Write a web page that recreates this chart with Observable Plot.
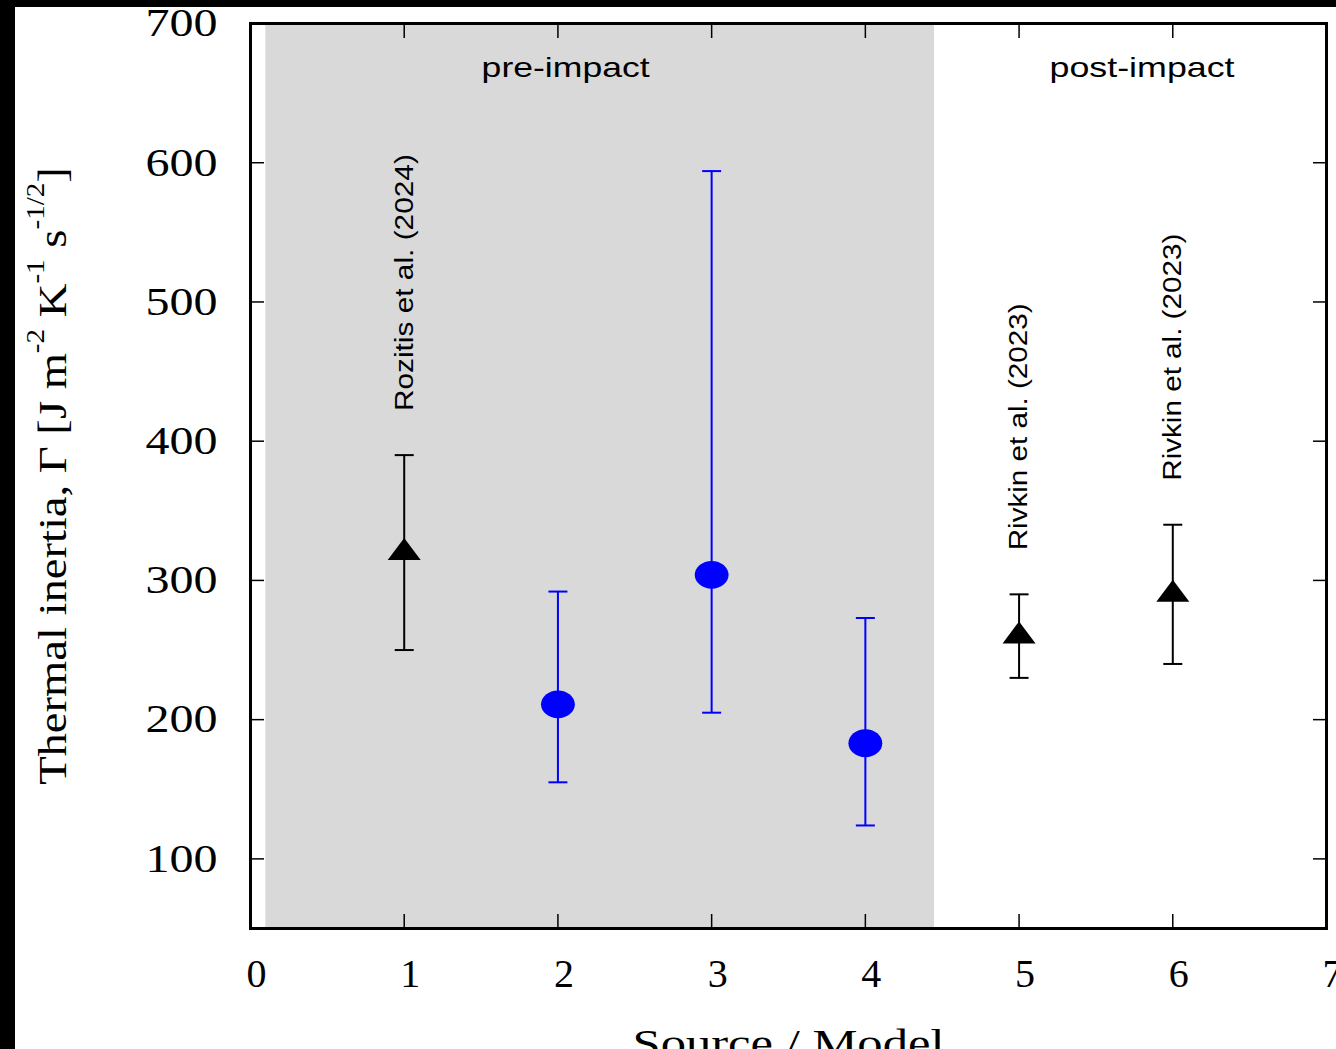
<!DOCTYPE html>
<html><head><meta charset="utf-8">
<script src="https://cdn.jsdelivr.net/npm/d3@7"></script>
<script src="https://cdn.jsdelivr.net/npm/@observablehq/plot@0.6"></script>
<style>
html,body{margin:0;padding:0;background:#fff;}
#wrap{width:1321px;height:1042px;border-left:15px solid #000;border-top:7px solid #000;overflow:hidden;background:#fff;}
</style></head><body><div id="wrap"></div>
<script>
// ---- data ----
const sourceIds = [1, 2, 3, 4, 5, 6];
const inertia = [320, 211, 304, 183, 260, 290];
const lower = [250, 155, 205, 124, 230, 240];
const upper = [390, 292, 594, 273, 290, 340];
const markerKind = ["triangle", "circle", "circle", "circle", "triangle", "triangle"];
const refLabels = ["Rozitis et al. (2024)", "", "", "", "Rivkin et al. (2023)", "Rivkin et al. (2023)"];
const xTicks = [0, 1, 2, 3, 4, 5, 6, 7];
const yTicks = [100, 200, 300, 400, 500, 600, 700];
const phaseNames = ["pre-impact", "post-impact"];
const phaseLabelX = [2.05, 5.8];
const shadeStart = [0.1];
const shadeEnd = [4.45];
const xTitle = "Source / Model";

const rows = sourceIds.map((x, i) => ({x, v: inertia[i], lo: lower[i], hi: upper[i], kind: markerKind[i], label: refLabels[i]}));
const shade = shadeStart.map((s, i) => ({x1: s, x2: shadeEnd[i]}));
const phases = phaseNames.map((name, i) => ({name, x: phaseLabelX[i]}));
const colorOf = k => k === "circle" ? "#0000ff" : "#000000";

// ---- symbols ----
const ellipseSymbol = {draw(ctx, size) {
  const r = Math.sqrt(size / Math.PI), rx = r * 1.13, ry = r * 0.93, k = 0.5523;
  ctx.moveTo(rx, 0);
  ctx.bezierCurveTo(rx, ry * k, rx * k, ry, 0, ry);
  ctx.bezierCurveTo(-rx * k, ry, -rx, ry * k, -rx, 0);
  ctx.bezierCurveTo(-rx, -ry * k, -rx * k, -ry, 0, -ry);
  ctx.bezierCurveTo(rx * k, -ry, rx, -ry * k, rx, 0);
  ctx.closePath();
}};
const triangleSymbol = {draw(ctx, size) {
  const r = Math.sqrt(size / Math.PI), w = r * 1.1, h = r * 1.47;
  ctx.moveTo(0, -2 * h / 3); ctx.lineTo(w, h / 3); ctx.lineTo(-w, h / 3); ctx.closePath();
}};
const capSymbol = {draw(ctx, size) {
  const r = Math.sqrt(size / Math.PI);
  ctx.moveTo(-r, 0); ctx.lineTo(r, 0);
}};

const serif = "'Liberation Serif', 'Times New Roman', serif";
const sans = "'Liberation Sans', Arial, sans-serif";
const blank = () => "";

const svg = Plot.plot({
  width: 1321, height: 1042,
  marginLeft: 235, marginRight: 10, marginTop: 16, marginBottom: 121,
  x: {domain: [0, 7]},
  y: {domain: [50, 700]},
  style: {background: "transparent", fontFamily: serif, color: "black"},
  marks: [
    Plot.rect(shade, {x1: "x1", x2: "x2", fill: "#d9d9d9"}),
    // inward ticks on all four sides
    Plot.axisX(xTicks, {anchor: "bottom", tickSize: 14, dy: -14, tickFormat: blank, label: null, strokeWidth: 1.5}),
    Plot.axisX(xTicks, {anchor: "top", tickSize: 14, dy: 14, tickFormat: blank, label: null, strokeWidth: 1.5}),
    Plot.axisY(yTicks, {anchor: "left", tickSize: 14, dx: 14, tickFormat: blank, label: null, strokeWidth: 1.5}),
    Plot.axisY(yTicks, {anchor: "right", tickSize: 14, dx: -14, tickFormat: blank, label: null, strokeWidth: 1.5}),
    // tick labels
    Plot.axisY(yTicks, {anchor: "left", tickSize: 0, tickPadding: 33, tickFormat: "d", fontSize: 40, fontFamily: serif, label: null}),
    Plot.axisX(xTicks, {anchor: "bottom", tickSize: 0, tickPadding: 30, dx: 6, tickFormat: "d", fontSize: 40, fontFamily: serif, label: null}),
    Plot.frame({stroke: "black", strokeWidth: 3}),
    // error bars
    Plot.ruleX(rows, {x: "x", y1: "lo", y2: "hi", stroke: d => colorOf(d.kind), strokeWidth: 2}),
    Plot.dot(rows, {x: "x", y: "hi", symbol: capSymbol, r: 9.5, fill: "none", stroke: d => colorOf(d.kind), strokeWidth: 2}),
    Plot.dot(rows, {x: "x", y: "lo", symbol: capSymbol, r: 9.5, fill: "none", stroke: d => colorOf(d.kind), strokeWidth: 2}),
    // markers
    Plot.dot(rows.filter(d => d.kind === "circle"), {x: "x", y: "v", symbol: ellipseSymbol, r: 15, fill: "#0000ff", stroke: "none"}),
    Plot.dot(rows.filter(d => d.kind === "triangle"), {x: "x", y: "v", symbol: triangleSymbol, r: 15, fill: "#000000", stroke: "none"}),
    // reference labels
    Plot.text(rows.filter(d => d.label), {x: "x", y: "hi", text: "label", rotate: -90, textAnchor: "start", lineAnchor: "middle", dy: -44, fontSize: 26, fontFamily: sans, fill: "black"}),
    // phase labels
    Plot.text(phases, {x: "x", text: "name", frameAnchor: "top", lineAnchor: "bottom", dy: 53, fontSize: 28, fontFamily: sans, fill: "black"}),
    // x title
    Plot.text([xTitle], {frameAnchor: "bottom", lineAnchor: "bottom", dy: 128, fontSize: 40, fontFamily: serif, fill: "black"})
  ]
});

document.getElementById("wrap").appendChild(svg);

// stretch texts to the reference's proportions (target lengths in px)
const targetLength = new Map([
  ["pre-impact", 168], ["post-impact", 185],
  ["Rozitis et al. (2024)", 257], ["Rivkin et al. (2023)", 247],
  [xTitle, 312]
]);
const yTickLabelSet = new Set(yTicks.map(String));
d3.select(svg).selectAll("text").each(function() {
  const s = this.textContent;
  let len = null;
  if (targetLength.has(s)) len = targetLength.get(s);
  else if (yTickLabelSet.has(s)) len = this.getComputedTextLength() * 1.2;
  if (len != null) {
    this.setAttribute("textLength", len);
    this.setAttribute("lengthAdjust", "spacingAndGlyphs");
  }
});

// y-axis title with superscripts
const yt = d3.select(svg).append("text")
  .attr("font-family", serif).attr("font-size", 40).attr("fill", "black").attr("text-anchor", "middle");
const parts = [["Thermal inertia, \u0393 [J m", 0], ["-2", 1], [" K", 0], ["-1", 1], [" s", 0], ["-1/2", 1], ["]", 0]];
let raised = false;
for (const [txt, sup] of parts) {
  const ts = yt.append("tspan").text(txt);
  if (sup) { ts.attr("font-size", 25).attr("dy", raised ? 0 : -22); raised = true; }
  else if (raised) { ts.attr("dy", 22); raised = false; }
}
const natural = yt.node().getComputedTextLength();
yt.attr("transform", `translate(51,469) rotate(-90) scale(${618 / natural},1)`);
</script>
</body></html>
